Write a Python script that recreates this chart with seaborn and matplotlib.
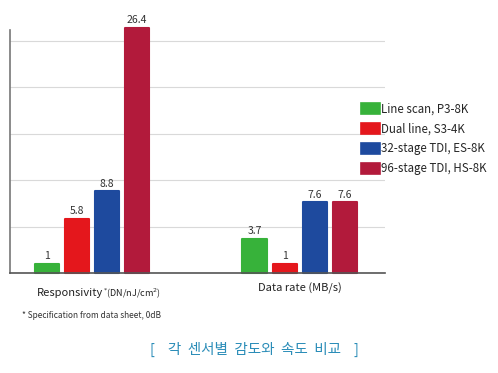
import pandas as pd
import matplotlib
matplotlib.use("Agg")
import matplotlib.pyplot as plt
from matplotlib.patches import Rectangle
import seaborn as sns

# data
metrics = ["Responsivity", "Data rate"]
sensors = ["Line scan, P3-8K", "Dual line, S3-4K", "32-stage TDI, ES-8K", "96-stage TDI, HS-8K"]
responsivity = [1, 5.8, 8.8, 26.4]
data_rate = [3.7, 1, 7.6, 7.6]
palette = ["#37b23a", "#e4171c", "#1e4a9e", "#b21a3b"]

rows = []
for s, r, d in zip(sensors, responsivity, data_rate):
    rows.append({"metric": metrics[0], "sensor": s, "value": r})
    rows.append({"metric": metrics[1], "sensor": s, "value": d})
df = pd.DataFrame(rows)

sns.set_style("white")
plt.rcParams["font.family"] = ["Noto Sans CJK KR", "DejaVu Sans"]

fig = plt.figure(figsize=(4.98, 3.73), dpi=100)
ax = fig.add_axes([0.020, 0.268, 0.753, 0.652])

sns.barplot(data=df, x="metric", y="value", hue="sensor", order=metrics,
            hue_order=sensors, palette=palette, width=0.58, gap=0.2,
            saturation=1, ax=ax, legend=False)

for cont in ax.containers:
    for bar in cont:
        bar.set_edgecolor(bar.get_facecolor())
        bar.set_linewidth(1.5)
        bar.set_joinstyle("round")
        bar.set_clip_on(False)
    labels = ax.bar_label(cont, fmt="%g", padding=2, fontsize=7.5, color="#333333")
    for t in labels:
        t.set_clip_on(False)
        t.set_annotation_clip(False)

ax.set_ylim(0, 26.2)
ax.set_xlim(-0.394, 1.41)
ax.set_yticks([0, 5, 10, 15, 20, 25])
ax.set_yticklabels([])
ax.yaxis.grid(True, color="#d9d9d9", linewidth=0.8)
ax.set_axisbelow(True)
ax.tick_params(length=0)
ax.set_xlabel("")
ax.set_ylabel("")
ax.set_xticklabels(["", "Data rate (MB/s)"], fontsize=8, color="#222222")
ax.tick_params(axis="x", pad=7)
for side in ["top", "right"]:
    ax.spines[side].set_visible(False)
ax.spines["left"].set_color("#777777")
ax.spines["bottom"].set_color("#555555")
ax.spines["left"].set_linewidth(1.2)
ax.spines["bottom"].set_linewidth(1.2)

# responsivity label with smaller unit part
fig.text(0.207, 0.207, "Responsivity", fontsize=8, color="#222222", ha="right")
fig.text(0.207, 0.207, "$^{*}$(DN/nJ/cm$^{2}$)", fontsize=6.5, color="#222222", ha="left")

# legend with wide swatches
handles = [Rectangle((0, 0), 1, 1, facecolor=c, edgecolor=c, linewidth=1.2,
                     joinstyle="round") for c in palette]
ax.legend(handles, sensors, loc="upper left", bbox_to_anchor=(0.925, 0.72),
          frameon=False, fontsize=8.3, handlelength=1.6, handleheight=1.1,
          handletextpad=0.1, labelspacing=0.6, borderaxespad=0)

fig.text(0.045, 0.148, "* Specification from data sheet, 0dB", fontsize=6,
         color="#333333")
fig.text(0.51, 0.05, "[    각  센서별  감도와  속도  비교    ]", fontsize=10.5,
         color="#2b8db8", ha="center")

fig.savefig("out.png", dpi=100)
